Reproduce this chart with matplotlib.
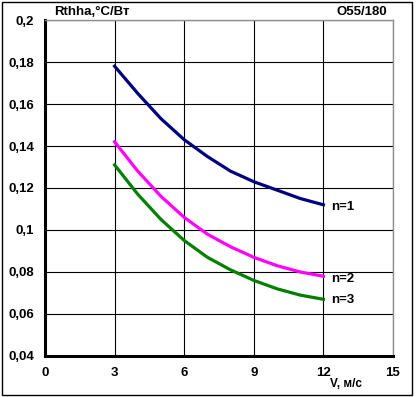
import matplotlib
matplotlib.use("Agg")
import matplotlib.pyplot as plt
from matplotlib.patches import Rectangle

# -----------------------------
# Data
# -----------------------------
v = [3, 4, 5, 6, 7, 8, 9, 10, 11, 12]
r_n1 = [0.178, 0.165, 0.153, 0.143, 0.135, 0.128, 0.123, 0.119, 0.115, 0.112]
r_n2 = [0.142, 0.128, 0.116, 0.106, 0.098, 0.092, 0.087, 0.083, 0.080, 0.078]
r_n3 = [0.131, 0.117, 0.105, 0.095, 0.087, 0.081, 0.076, 0.072, 0.069, 0.067]

x_ticks = [0, 3, 6, 9, 12, 15]
y_ticks = [0.04, 0.06, 0.08, 0.1, 0.12, 0.14, 0.16, 0.18, 0.2]
y_labels = ["0,04", "0,06", "0,08", "0,1", "0,12", "0,14", "0,16", "0,18", "0,2"]

plt.rcParams["font.family"] = ["Liberation Sans", "DejaVu Sans"]
plt.rcParams["font.weight"] = "bold"

fig = plt.figure(figsize=(4.16, 3.97), dpi=100)
ax = fig.add_axes([0.1082, 0.1033, 0.8365, 0.8463])

# -----------------------------
# Curves
# -----------------------------
ax.plot(v, r_n1, color="#000080", lw=2.3, solid_joinstyle="round")
ax.plot(v, r_n2, color="#ff00ff", lw=2.3, solid_joinstyle="round")
ax.plot(v, r_n3, color="#008000", lw=2.3, solid_joinstyle="round")

ax.text(12.35, r_n1[-1] - 0.001, "n=1", fontsize=9.5, fontweight="bold", va="center")
ax.text(12.35, r_n2[-1] - 0.0015, "n=2", fontsize=9.5, fontweight="bold", va="center")
ax.text(12.35, r_n3[-1] - 0.0005, "n=3", fontsize=9.5, fontweight="bold", va="center")

# -----------------------------
# Axes styling
# -----------------------------
ax.set_xlim(0, 15)
ax.set_ylim(0.04, 0.2)
ax.set_xticks(x_ticks)
ax.set_yticks(y_ticks)
ax.set_yticklabels(y_labels)
ax.tick_params(length=0, labelsize=9.5, pad=8)
ax.grid(True, color="black", lw=0.8)
ax.set_axisbelow(True)

ax.spines["left"].set_linewidth(2.2)
ax.spines["bottom"].set_linewidth(2.2)
ax.spines["top"].set_color("#909090")
ax.spines["right"].set_color("#909090")
ax.spines["top"].set_linewidth(1)
ax.spines["right"].set_linewidth(1)

fig.text(92 / 416, 1 - 12 / 397, "Rthha,°C/Вт", fontsize=9.5, fontweight="bold",
         ha="center", va="center")
fig.text(362 / 416, 1 - 12 / 397, "O55/180", fontsize=9.5, fontweight="bold",
         ha="center", va="center")
fig.text(346 / 416, 1 - 384 / 397, "V, м/с", fontsize=8.5, fontweight="bold",
         ha="center", va="center")

fig.patches.append(Rectangle((2 / 416, 2 / 397), 410 / 416, 393 / 397,
                             transform=fig.transFigure, fill=False,
                             edgecolor="black", lw=1))

plt.savefig("out.png", dpi=100)
plt.close()
